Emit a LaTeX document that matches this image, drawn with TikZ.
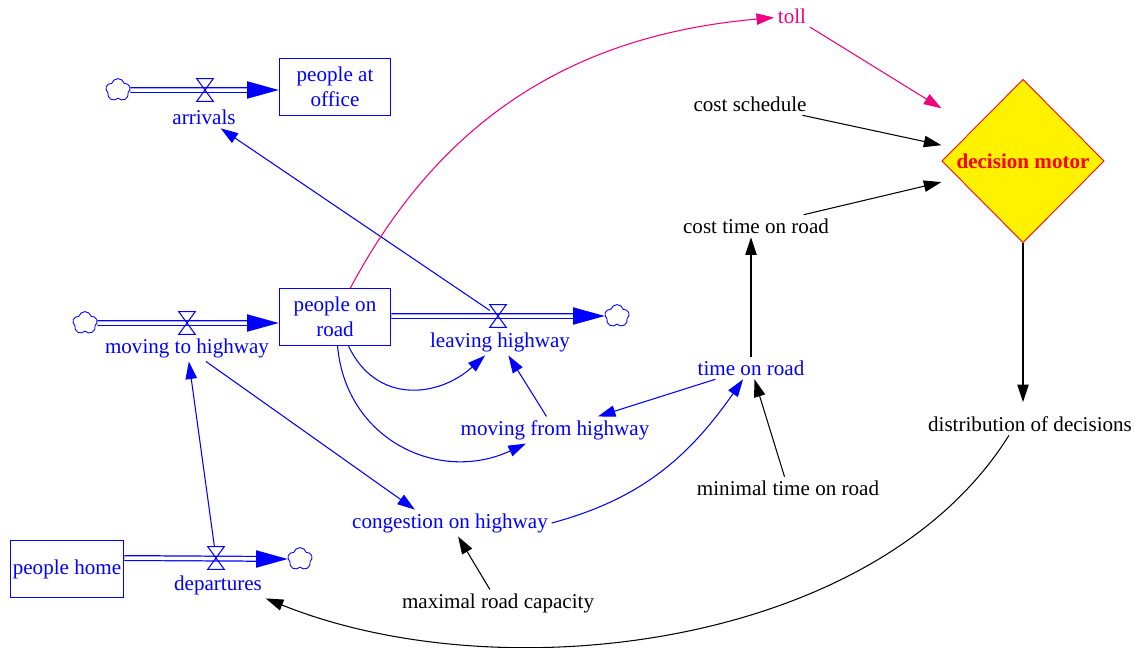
\documentclass[tikz,border=0pt]{standalone}
\usepackage{fontspec}
\setmainfont{Liberation Serif}
\usepackage{xcolor}
\usepackage{tikz}
\usetikzlibrary{shapes,arrows.meta,positioning}

\definecolor{tollpink}{RGB}{240,0,128}

\tikzset{
  stock/.style={draw=blue, text=blue, line width=0.6pt, align=center,
    minimum width=63.5pt, minimum height=32pt, inner sep=1pt,
    font=\fontsize{12}{14}\selectfont},
  var/.style={text=black, inner sep=2pt, font=\fontsize{12}{14}\selectfont},
  flowvar/.style={var, text=blue},
  valve/.style={minimum width=9pt, minimum height=12.5pt, inner sep=0pt},
  sink/.style={cloud, cloud puffs=5, cloud puff arc=150, draw=blue,
    line width=0.5pt, minimum width=14pt, minimum height=13pt, inner sep=0pt},
  pipe/.style={draw=blue, double=white, line width=0.7pt, double distance=2pt,
    shorten >=14pt},
  link/.style={draw, line width=0.6pt, -{Triangle[length=10pt,width=6.5pt]}},
}

\begin{document}
\begin{tikzpicture}[x=0.02cm, y=0.02cm]
    \useasboundingbox (0,0) rectangle (1135,-647);

    % Stocks
    \node[stock] (office) at (335,-87) {people at\\office};
    \node[stock] (road) at (335,-317) {people on\\road};
    \node[stock, minimum width=64.6pt] (home) at (67,-569) {people home};

    % Valves and clouds
    \node[valve] (vArr) at (205,-90) {};
    \node[valve] (vMov) at (187,-323) {};
    \node[valve] (vLeave) at (498,-316) {};
    \node[valve] (vDep) at (216,-558) {};
    \node[sink] (cArr) at (118,-90) {};
    \node[sink] (cMov) at (85,-323) {};
    \node[sink] (cLeave) at (617,-316) {};
    \node[sink] (cDep) at (300,-559) {};

    % Pipes
    \draw[pipe] (cArr.east) -- (office.west |- vArr);
    \draw[pipe] (cMov.east) -- (road.west |- vMov);
    \draw[pipe] (road.east |- vLeave) -- (cLeave.west);
    \draw[pipe] (home.east |- vDep) -- (cDep.west);
    \fill[blue] (office.west |- vArr) -- ++(-18pt,5pt) -- ++(0,-10pt) -- cycle;
    \fill[blue] (road.west |- vMov) -- ++(-18pt,5pt) -- ++(0,-10pt) -- cycle;
    \fill[blue] (cLeave.west) -- ++(-18pt,5pt) -- ++(0,-10pt) -- cycle;
    \fill[blue] (cDep.west) -- ++(-18pt,5pt) -- ++(0,-10pt) -- cycle;
    \foreach \v in {vArr,vMov,vLeave,vDep}
        \draw[blue, line width=0.6pt] (\v.north west) -- (\v.north east)
            -- (\v.south west) -- (\v.south east) -- cycle;

    % Flow names
    \node[flowvar] (arrivals) at (204,-117) {arrivals};
    \node[flowvar] (moving) at (187,-348) {moving to highway};
    \node[flowvar] (leaving) at (500,-342) {leaving highway};
    \node[flowvar] (departures) at (218,-585) {departures};

    % Auxiliaries
    \node[var, text=tollpink] (toll) at (792,-16) {toll};
    \node[var] (costsched) at (750,-104) {cost schedule};
    \node[var] (costtime) at (756,-226) {cost time on road};
    \node[draw=red, fill=yellow, text=red, diamond, aspect=1, inner sep=0pt,
        minimum width=92.4pt, minimum height=93pt, line width=0.5pt,
        font=\fontsize{12}{14}\selectfont\bfseries] (motor) at (1023,-161) {decision motor};
    \node[var] (distrib) at (1030,-424) {distribution of decisions};
    \node[flowvar] (timeroad) at (751,-368) {time on road};
    \node[flowvar] (movfrom) at (555,-430) {moving from highway};
    \node[var] (mintime) at (788,-488) {minimal time on road};
    \node[flowvar] (congestion) at (450,-523) {congestion on highway};
    \node[var] (maxcap) at (498,-603) {maximal road capacity};

    % Blue links
    \draw[link, blue] (vLeave) -- (arrivals);
    \draw[link, blue] (vDep) -- (moving);
    \draw[link, blue] (moving) -- ([xshift=-20pt]congestion.north);
    \draw[link, blue] (road) to[out=-65, in=-138, looseness=1.2] (leaving);
    \draw[link, blue] (road) to[out=-85, in=-155, looseness=1.15] (movfrom);
    \draw[link, blue] (movfrom) -- (leaving);
    \draw[link, blue] (timeroad) -- (movfrom);
    \draw[link, blue] (congestion.east) to[out=15, in=-125] (timeroad);

    % Black links
    \draw[link] (mintime) -- (timeroad);
    \draw[link] (maxcap) -- (congestion);
    \draw[link] (timeroad.north) -- (timeroad.north |- costtime.south);
    \draw[link] (costtime) -- ([yshift=-12pt]motor.west);
    \draw[link] (costsched) -- ([yshift=9pt]motor.west);
    \draw[link, shorten >=6pt] (motor.south) -- (motor.south |- distrib.north);
    \draw[link] ([xshift=-12pt]distrib.south) to[out=-122, in=-22, looseness=0.85] (departures.south east);

    % Toll links
    \draw[link, tollpink] (road) to[out=62, in=-175] (toll);
    \draw[link, tollpink] (toll) -- ([yshift=30pt]motor.west);
\end{tikzpicture}
\end{document}
